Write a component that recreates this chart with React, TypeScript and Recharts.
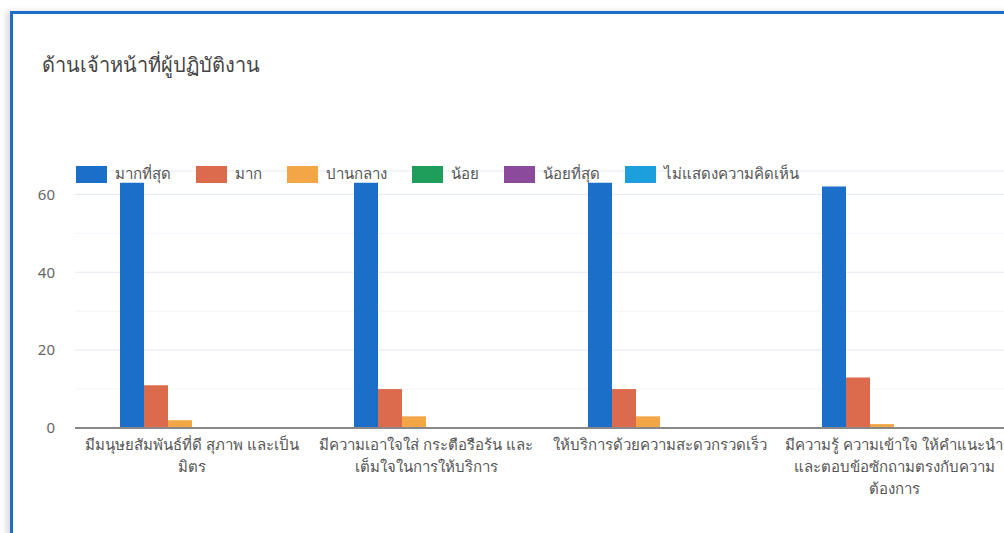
import React from "react";
import { BarChart, Bar, XAxis, YAxis, CartesianGrid } from "recharts";

const title = "ด้านเจ้าหน้าที่ผู้ปฏิบัติงาน";

const categories = [
    "มีมนุษยสัมพันธ์ที่ดี สุภาพ และเป็น\nมิตร",
    "มีความเอาใจใส่ กระตือรือร้น และ\nเต็มใจในการให้บริการ",
    "ให้บริการด้วยความสะดวกรวดเร็ว",
    "มีความรู้ ความเข้าใจ ให้คำแนะนำ\nและตอบข้อซักถามตรงกับความ\nต้องการ",
];

const seriesNames = ["มากที่สุด", "มาก", "ปานกลาง", "น้อย", "น้อยที่สุด", "ไม่แสดงความคิดเห็น"];
const seriesColors = ["#1b6fc8", "#dc6a4c", "#f3a646", "#1f9d5b", "#8c4a9c", "#1c9fdc"];

const mostValues = [63, 63, 63, 62];
const muchValues = [11, 10, 10, 13];
const midValues = [2, 3, 3, 1];
const littleValues = [0, 0, 0, 0];
const leastValues = [0, 0, 0, 0];
const noCommentValues = [0, 0, 0, 0];

const yTicks = [0, 20, 40, 60];
const minorTicks = [10, 30, 50];

const seriesValues = [mostValues, muchValues, midValues, littleValues, leastValues, noCommentValues];

const data = categories.map((name, i) => {
    const row: Record<string, string | number> = { name };
    seriesNames.forEach((s, j) => {
        row[s] = seriesValues[j][i];
    });
    return row;
});

const FONT = "'Noto Sans', 'DejaVu Sans', sans-serif";

function WrappedTick(props: any) {
    const { x, y, payload } = props;
    const lines = String(payload.value).split("\n");
    return (
        <text x={x} y={y} textAnchor="middle" fill="#555" fontSize={15} fontFamily={FONT}>
            {lines.map((l, i) => (
                <tspan key={i} x={x} dy={i === 0 ? 14 : 22}>
                    {l}
                </tspan>
            ))}
        </text>
    );
}

export default function App() {
    return (
        <div style={{ position: "fixed", left: 0, top: 0, width: 1004, height: 533, overflow: "hidden", background: "#fff" }}>
            <div
                style={{
                    position: "absolute",
                    left: 10,
                    top: 11,
                    width: 1100,
                    height: 600,
                    borderTop: "3px solid #1b6fc8",
                    borderLeft: "3px solid #1b6fc8",
                    boxShadow: "-4px 0 6px #ddd",
                }}
            />
            <div
                style={{
                    position: "absolute",
                    left: 42,
                    top: 49,
                    fontFamily: FONT,
                    fontSize: 20,
                    color: "#444",
                }}
            >
                {title}
            </div>
            <div style={{ position: "absolute", left: 0, top: 0 }}>
                <BarChart
                    width={1100}
                    height={533}
                    data={data}
                    margin={{ top: 171, right: 89, bottom: 5, left: 0 }}
                    barGap={0}
                    barSize={24}
                >
                    <CartesianGrid vertical={false} horizontalValues={minorTicks} stroke="#f1f4f9" />
                    <CartesianGrid vertical={false} stroke="#e3e9f3" />
                    <XAxis
                        dataKey="name"
                        interval={0}
                        tickLine={false}
                        axisLine={{ stroke: "#888", strokeWidth: 2 }}
                        height={100}
                        tick={<WrappedTick />}
                    />
                    <YAxis
                        width={75}
                        domain={[0, 66]}
                        ticks={yTicks}
                        axisLine={false}
                        tickLine={false}
                        tickSize={0}
                        tickMargin={20}
                        tick={{ fill: "#666", fontSize: 15, fontFamily: FONT }}
                    />
                    {seriesNames.map((s, i) => (
                        <Bar key={s} dataKey={s} fill={seriesColors[i]} isAnimationActive={false} />
                    ))}
                </BarChart>
            </div>
            <div
                style={{
                    position: "absolute",
                    left: 76,
                    top: 162,
                    display: "flex",
                    alignItems: "center",
                    fontFamily: FONT,
                    fontSize: 15,
                    color: "#555",
                }}
            >
                {seriesNames.map((s, i) => (
                    <div key={s} style={{ display: "flex", alignItems: "center", marginRight: 25 }}>
                        <span style={{ display: "inline-block", width: 31, height: 17, background: seriesColors[i], marginRight: 8 }} />
                        <span>{s}</span>
                    </div>
                ))}
            </div>
        </div>
    );
}
